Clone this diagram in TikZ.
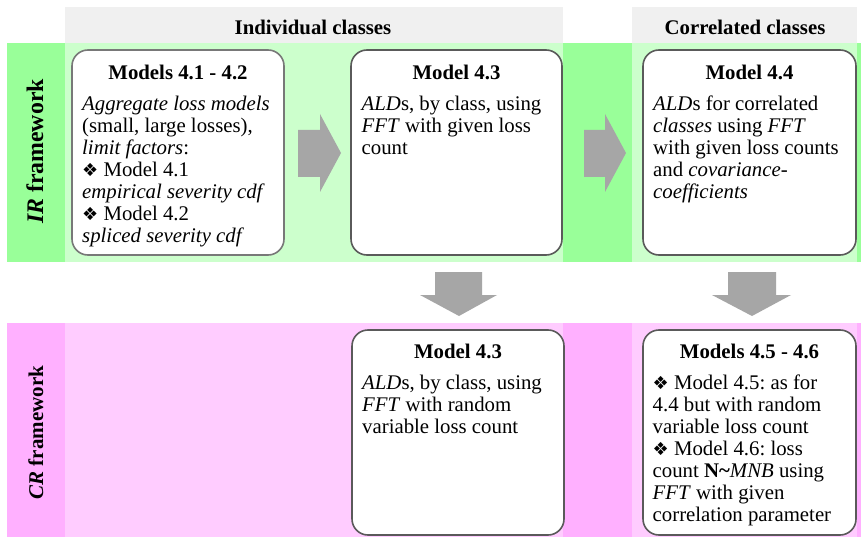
\documentclass[tikz,border=0pt]{standalone}
\usepackage{fontspec}
\setmainfont{Liberation Serif}
\newfontfamily\dingfont{DejaVu Sans}
\newcommand{\dmd}{{\dingfont\fontsize{18}{18}\selectfont\char"2756}}
\frenchspacing
\definecolor{gDark}{HTML}{99FF99}
\definecolor{gLight}{HTML}{CCFFCC}
\definecolor{pDark}{HTML}{FFB0FF}
\definecolor{pLight}{HTML}{FFCCFF}
\definecolor{hdr}{HTML}{F0F0F0}
\definecolor{arrgray}{HTML}{A6A6A6}
\definecolor{bord}{HTML}{5A5A5A}
\definecolor{bordlight}{HTML}{787878}
\tikzset{
  mbox/.style={draw=bord, line width=1.6pt, fill=white, rounded corners=16pt,
    minimum height=205pt, inner sep=0pt},
  ttl/.style={anchor=base, inner sep=0pt, font=\fontsize{20.8}{22}\selectfont\bfseries},
  bodytxt/.style={anchor=north west, inner sep=0pt, align=left,
    font=\fontsize{20.8}{22}\selectfont\frenchspacing},
  hdrtxt/.style={anchor=base, inner sep=0pt, font=\fontsize{20.8}{22}\selectfont\bfseries},
  sidetxt/.style={anchor=base, rotate=90, inner sep=0pt, font=\fontsize{21}{22}\selectfont\bfseries},
  blockarrow/.style={fill=arrgray, draw=none}
}
\begin{document}
\begin{tikzpicture}[x=1pt,y=-1pt]
\useasboundingbox (0,0) rectangle (861,537);
\fill[white] (0,0) rectangle (861,537);
% header bands
\fill[hdr] (65,7) rectangle (563,43);
\fill[hdr] (632,7) rectangle (857,43);
% IR band
\fill[gDark] (7,43) rectangle (65,262);
\fill[gLight] (65,43) rectangle (563,262);
\fill[gDark] (563,43) rectangle (632,262);
\fill[gLight] (632,43) rectangle (857,262);
\fill[gDark] (857,43) rectangle (861,262);
% CR band
\fill[pDark] (7,323) rectangle (65,537);
\fill[pLight] (65,323) rectangle (563,537);
\fill[pDark] (563,323) rectangle (632,537);
\fill[pLight] (632,323) rectangle (857,537);
\fill[pDark] (857,323) rectangle (861,537);
% headers
\node[hdrtxt] (hInd) at (313,35) {Individual classes};
\node[hdrtxt] (hCor) at (745,35) {Correlated classes};
% side labels
\node[sidetxt, font=\fontsize{23.8}{24}\selectfont\bfseries] (sIR) at (43,151.5) {\textit{IR} framework};
\node[sidetxt] (sCR) at (43,432.5) {\textit{CR} framework};
% boxes
\node[mbox, draw=bordlight, minimum width=212pt] (b1) at (178,152.5) {};
\node[mbox, minimum width=211pt] (b2) at (456.5,152.5) {};
\node[mbox, minimum width=213pt] (b3) at (749.5,152.5) {};
\node[mbox, minimum width=212pt] (b4) at (458,432.5) {};
\node[mbox, minimum width=213pt] (b5) at (749.5,432.5) {};
% titles
\node[ttl] (t1) at (178,80) {Models 4.1 - 4.2};
\node[ttl] (t2) at (456.5,80) {Model 4.3};
\node[ttl] (t3) at (749.5,80) {Model 4.4};
\node[ttl] (t4) at (458,358) {Model 4.3};
\node[ttl] (t5) at (749.5,358) {Models 4.5 - 4.6};
% bodies
\node[bodytxt] (x1) at (82,95.8) {\textit{Aggregate loss models}\\
(small, large losses),\\
\textit{limit factors}:\\
\dmd{} Model 4.1\\
\textit{empirical severity cdf}\\
\dmd{} Model 4.2\\
\textit{spliced severity cdf}};
\node[bodytxt] (x2) at (361.5,95.8) {\textit{ALD}s, by class, using\\
\textit{FFT} with given loss\\
count};
\node[bodytxt] (x3) at (653,95.8) {\textit{ALD}s for correlated\\
\textit{classes} using \textit{FFT}\\
with given loss counts\\
and \textit{covariance-}\\
\textit{coefficients}};
\node[bodytxt] (x4) at (362,374.8) {\textit{ALD}s, by class, using\\
\textit{FFT} with random\\
variable loss count};
\node[bodytxt] (x5) at (652.5,374.8) {\dmd{} Model 4.5: as for\\
4.4 but with random\\
variable loss count\\
\dmd{} Model 4.6: loss\\
count \textbf{N\textasciitilde}\textit{MNB} using\\
\textit{FFT} with given\\
correlation parameter};
% block arrows
\fill[blockarrow] (298,130) -- (320,130) -- (320,114) -- (341,153) -- (320,192) -- (320,177) -- (298,177) -- cycle;
\fill[blockarrow] (584,130) -- (605,130) -- (605,114) -- (626,153) -- (605,192) -- (605,177) -- (584,177) -- cycle;
\fill[blockarrow] (435,272) -- (482,272) -- (482,295) -- (497,295) -- (459,316) -- (420,295) -- (435,295) -- cycle;
\fill[blockarrow] (728,272) -- (776,272) -- (776,295) -- (791,295) -- (752,316) -- (712,295) -- (728,295) -- cycle;
\end{tikzpicture}
\end{document}
